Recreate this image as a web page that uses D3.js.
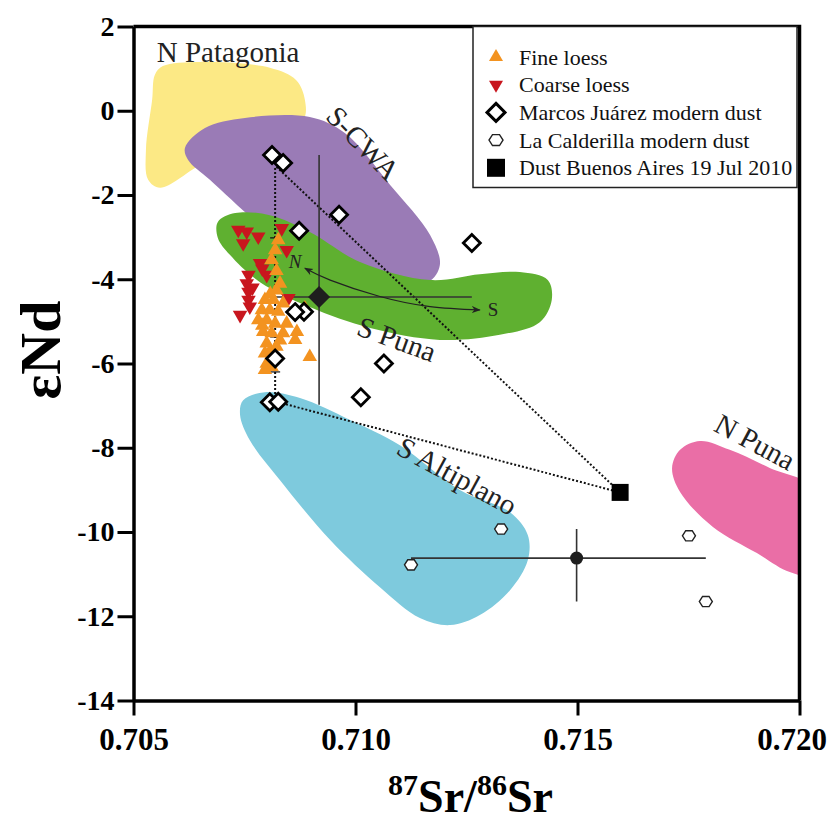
<!DOCTYPE html>
<html><head><meta charset="utf-8">
<script src="https://cdn.jsdelivr.net/npm/d3@7/dist/d3.min.js"></script>
<style>body{margin:0;background:#fff}</style>
</head><body>
<svg id="c" width="830" height="822"></svg>
<script>
// ---------- data ----------
const xTicks = [0.705, 0.710, 0.715, 0.720];
const yTicks = [2, 0, -2, -4, -6, -8, -10, -12, -14];

const nPatagonia = [[0.70566,1.06],[0.70650,1.16],[0.70807,1.02],[0.70866,0.73],[0.70886,0.26],[0.70882,-0.22],
  [0.70785,-0.58],[0.70650,-1.29],[0.70560,-1.83],[0.70533,-1.64],[0.70528,-0.93],[0.70542,0.26],[0.70548,0.85]];
const sCWA = [[0.70616,-0.88],[0.70661,-0.41],[0.70751,-0.17],[0.70897,-0.15],[0.70976,-0.53],[0.71078,-1.76],
  [0.71168,-2.95],[0.71190,-3.66],[0.71163,-4.07],[0.71033,-4.09],[0.70920,-3.73],[0.70785,-2.71],[0.70672,-1.64],[0.70623,-1.17]];
const sPuna = [[0.70690,-2.64],[0.70729,-2.43],[0.70807,-2.48],[0.70897,-2.88],[0.71010,-3.59],[0.71168,-4.02],
  [0.71280,-3.88],[0.71370,-3.83],[0.71433,-4.02],[0.71442,-4.49],[0.71415,-5.02],[0.71325,-5.32],[0.71190,-5.44],
  [0.71033,-5.16],[0.70897,-4.66],[0.70785,-4.07],[0.70717,-3.42],[0.70690,-3.02]];
const sAltiplano = [[0.70747,-6.87],[0.70796,-6.68],[0.70875,-6.82],[0.70988,-7.34],[0.71100,-7.94],[0.71235,-9.00],
  [0.71348,-9.53],[0.71388,-10.07],[0.71388,-10.67],[0.71348,-11.38],[0.71280,-11.97],[0.71213,-12.21],[0.71145,-12.04],
  [0.71055,-11.31],[0.70943,-10.19],[0.70830,-8.77],[0.70762,-7.82],[0.70740,-7.22]];
const nPuna = [[0.71776,-7.84],[0.71843,-8.05],[0.71933,-8.48],[0.72035,-9.00],[0.72035,-11.02],[0.71978,-10.95],
  [0.71904,-10.50],[0.71805,-9.88],[0.71731,-9.05],[0.71713,-8.48],[0.71731,-8.05]];

const regionNames = ["N Patagonia","S-CWA","S Puna","S Altiplano","N Puna"];
const regionLabelAt = [[0.70713,1.40],[0.71017,-0.77],[0.71093,-5.42],[0.71229,-8.67],[0.71900,-7.86]];

const coarseLoess = [[0.70736,-2.83],[0.70755,-2.87],[0.70747,-3.15],[0.70781,-2.99],[0.70834,-2.79],[0.70785,-3.62],
  [0.70800,-3.90],[0.70759,-3.90],[0.70755,-4.10],[0.70759,-4.30],[0.70759,-4.49],[0.70762,-4.65],[0.70740,-4.85],
  [0.70849,-4.45],[0.70845,-3.31],[0.70768,-4.20],[0.70790,-3.75]];
const fineLoess = [[0.70826,-3.07],[0.70819,-3.31],[0.70811,-3.54],[0.70830,-4.10],[0.70822,-4.26],[0.70796,-4.49],
  [0.70815,-4.49],[0.70837,-4.57],[0.70789,-4.73],[0.70807,-4.73],[0.70826,-4.77],[0.70781,-4.97],[0.70800,-4.97],
  [0.70819,-5.05],[0.70845,-5.05],[0.70792,-5.25],[0.70811,-5.28],[0.70837,-5.28],[0.70868,-5.25],[0.70886,-4.69],
  [0.70864,-5.44],[0.70800,-5.52],[0.70822,-5.60],[0.70796,-5.76],[0.70815,-5.84],[0.70800,-6.00],[0.70811,-6.08],
  [0.70897,-5.84],[0.70796,-6.15],[0.70808,-4.35],[0.70790,-5.10],[0.70830,-5.45],[0.70808,-5.70],[0.70822,-3.80]];
const marcosJuarez = [[0.70812,-1.05],[0.70837,-1.24],[0.70873,-2.85],[0.70963,-2.47],[0.71262,-3.14],[0.71064,-6.00],
  [0.71012,-6.80],[0.70807,-6.92],[0.70826,-6.91],[0.70819,-5.88],[0.70884,-4.77],[0.70864,-4.78]];
const mjMean = [0.70918, -4.42];
const mjRangeX = [0.70810, 0.71262];
const mjRangeY = [-1.05, -6.98];
const laCalderilla = [[0.71328,-9.93],[0.71125,-10.78],[0.71751,-10.09],[0.71789,-11.65]];
const lcMean = [0.71498, -10.62];
const lcRangeX = [0.71125, 0.71789];
const lcRangeY = [-9.93, -11.65];
const dustBA = [0.71596, -9.06];

const mixingLines = [
  [[0.70819,-1.36],[0.70819,-6.90]],
  [[0.70822,-1.33],[0.71596,-9.06]],
  [[0.70826,-6.92],[0.71596,-9.06]]
];
const mixTicksY = [-3.02, -4.33, -5.37, -6.20];
const mixTicksX = 0.70819;
const nsArrow = [[0.70886,-3.74],[0.70943,-4.02],[0.71055,-4.41],[0.71168,-4.65],[0.71280,-4.73]];
const nsLabels = [["N",0.70864,-3.59],["S",0.71310,-4.71]];

const legendLabels = ["Fine loess","Coarse loess","Marcos Juárez modern dust","La Calderilla modern dust","Dust Buenos Aires 19 Jul 2010"];

// ---------- drawing ----------
const svg = d3.select("#c");
const W = 830, H = 822;
const L = 133.5, R = 799.5, T = 26.5, B = 700.5;
const x = d3.scaleLinear().domain([0.705, 0.720]).range([L, R]);
const y = d3.scaleLinear().domain([-14, 2]).range([B, T]);
const serif = "'Liberation Serif','Times New Roman',serif";

svg.append("rect").attr("width", W).attr("height", H).attr("fill", "#fff");
const defs = svg.append("defs");
defs.append("clipPath").attr("id","plotclip").append("rect")
  .attr("x", L).attr("y", T).attr("width", R - L).attr("height", B - T);
defs.append("marker").attr("id","ah").attr("viewBox","0 0 10 10").attr("refX",9).attr("refY",5)
  .attr("markerWidth",9).attr("markerHeight",9).attr("markerUnits","userSpaceOnUse")
  .attr("orient","auto-start-reverse")
  .append("path").attr("d","M0,1 L10,5 L0,9 L3,5 Z").attr("fill","#222");

const plot = svg.append("g").attr("clip-path","url(#plotclip)");

const area = d3.line().x(d => x(d[0])).y(d => y(d[1])).curve(d3.curveCatmullRomClosed.alpha(0.5));
const regions = [
  [nPatagonia, "#fce985"],
  [sCWA, "#9a7bb6"],
  [sPuna, "#5fb030"],
  [sAltiplano, "#7ecadd"],
  [nPuna, "#ea6ea6"]
];
regions.forEach(([pts, col]) => plot.append("path").attr("d", area(pts)).attr("fill", col));

// region labels
const labelAngles = [0, 46, 20, 28.6, 28.3];
regionNames.forEach((t, i) => {
  const [lx, ly] = regionLabelAt[i];
  svg.append("text").attr("transform", `translate(${x(lx)},${y(ly)}) rotate(${labelAngles[i]})`)
    .attr("text-anchor","middle").attr("dominant-baseline","central")
    .attr("font-family", serif).attr("font-size", 29).attr("fill","#222").text(t);
});

// mixing lines
const seg = d3.line().x(d => x(d[0])).y(d => y(d[1]));
mixingLines.forEach(l => plot.append("path").attr("d", seg(l)).attr("fill","none")
  .attr("stroke","#111").attr("stroke-width",2).attr("stroke-dasharray","2,2"));
mixTicksY.forEach(v => plot.append("line").attr("x1", x(mixTicksX) - 5).attr("x2", x(mixTicksX) + 5)
  .attr("y1", y(v)).attr("y2", y(v)).attr("stroke","#111").attr("stroke-width",1.2));

// MJ error bars
plot.append("line").attr("x1", x(mjRangeX[0])).attr("x2", x(mjRangeX[1])).attr("y1", y(mjMean[1])).attr("y2", y(mjMean[1]))
  .attr("stroke","#333").attr("stroke-width",1.6);
plot.append("line").attr("x1", x(mjMean[0])).attr("x2", x(mjMean[0])).attr("y1", y(mjRangeY[0])).attr("y2", y(mjRangeY[1]))
  .attr("stroke","#333").attr("stroke-width",1.6);

// symbols
const triUp = s => { const h = s * Math.sqrt(3) / 2; return `M0,${-h*2/3}L${s/2},${h/3}L${-s/2},${h/3}Z`; };
const triDown = s => { const h = s * Math.sqrt(3) / 2; return `M0,${h*2/3}L${s/2},${-h/3}L${-s/2},${-h/3}Z`; };
const diamond = s => { const r = s / 2; return `M0,${-r}L${r},0L0,${r}L${-r},0Z`; };
const hexagon = s => { const r = s / 2; let p = ""; for (let k = 0; k < 6; k++) { const a = k * Math.PI / 3; p += (k ? "L" : "M") + (r*Math.cos(a)).toFixed(2) + "," + (r*0.9*Math.sin(a)).toFixed(2); } return p + "Z"; };
const square = s => `M${-s/2},${-s/2}h${s}v${s}h${-s}Z`;

const ORANGE = "#f39320", RED = "#c8161e";
plot.selectAll(".cl").data(coarseLoess).join("path").attr("class","cl")
  .attr("transform", d => `translate(${x(d[0])},${y(d[1])})`).attr("d", triDown(14.5)).attr("fill", RED);
plot.selectAll(".fl").data(fineLoess).join("path").attr("class","fl")
  .attr("transform", d => `translate(${x(d[0])},${y(d[1])})`).attr("d", triUp(14.5)).attr("fill", ORANGE);
plot.selectAll(".mj").data(marcosJuarez).join("path").attr("class","mj")
  .attr("transform", d => `translate(${x(d[0])},${y(d[1])})`).attr("d", diamond(17))
  .attr("fill","#fff").attr("stroke","#000").attr("stroke-width",2.8);
plot.append("path").attr("transform", `translate(${x(mjMean[0])},${y(mjMean[1])})`).attr("d", diamond(22)).attr("fill","#1e1e1e");

// N-S arrow
plot.append("path").attr("d", d3.line().x(d => x(d[0])).y(d => y(d[1])).curve(d3.curveNatural)(nsArrow))
  .attr("fill","none").attr("stroke","#222").attr("stroke-width",1.2)
  .attr("marker-start","url(#ah)").attr("marker-end","url(#ah)");
nsLabels.forEach(([t, lx, ly]) => svg.append("text").attr("x", x(lx)).attr("y", y(ly))
  .attr("text-anchor","middle").attr("dominant-baseline","central").attr("font-family", serif)
  .attr("font-style", t === "N" ? "italic" : "normal").attr("font-size", 19).attr("fill","#222").text(t));

// LC error bars
plot.append("line").attr("x1", x(lcRangeX[0])).attr("x2", x(lcRangeX[1])).attr("y1", y(lcMean[1])).attr("y2", y(lcMean[1]))
  .attr("stroke","#333").attr("stroke-width",1.6);
plot.append("line").attr("x1", x(lcMean[0])).attr("x2", x(lcMean[0])).attr("y1", y(lcRangeY[0])).attr("y2", y(lcRangeY[1]))
  .attr("stroke","#333").attr("stroke-width",1.6);
plot.selectAll(".lc").data(laCalderilla).join("path").attr("class","lc")
  .attr("transform", d => `translate(${x(d[0])},${y(d[1])})`).attr("d", hexagon(13))
  .attr("fill","#fff").attr("stroke","#222").attr("stroke-width",1.4);
plot.append("circle").attr("cx", x(lcMean[0])).attr("cy", y(lcMean[1])).attr("r", 6.5).attr("fill","#1e1e1e");

plot.append("path").attr("transform", `translate(${x(dustBA[0])},${y(dustBA[1])})`).attr("d", square(17)).attr("fill","#000");

// axes
const yAxis = svg.append("g").attr("transform", `translate(${L},0)`)
  .call(d3.axisLeft(y).tickValues(yTicks).tickSize(16).tickPadding(3).tickSizeOuter(0).tickFormat(d => String(d)));
const xAxis = svg.append("g").attr("transform", `translate(0,${B})`)
  .call(d3.axisBottom(x).tickValues(xTicks).tickSize(15).tickPadding(12).tickSizeOuter(0).tickFormat(d3.format(".3f")));
[yAxis, xAxis].forEach(g => {
  g.select(".domain").attr("stroke","#000").attr("stroke-width",3.5);
  g.selectAll(".tick line").attr("stroke","#000").attr("stroke-width",3);
  g.selectAll(".tick text").attr("fill","#000").attr("font-family", serif).attr("font-weight","bold");
});
yAxis.selectAll(".tick text").attr("font-size", 28);
xAxis.selectAll(".tick text").attr("font-size", 31);
// keep last x label inside the page
xAxis.selectAll(".tick text").filter(d => d === 0.720).attr("text-anchor","end").attr("dx", 27);
// frame top/right
svg.append("path").attr("d", `M${L},${T}H${R}V${B}`).attr("fill","none").attr("stroke","#000").attr("stroke-width",3.5);

// axis titles
const xt = svg.append("text").attr("x", (L + R) / 2 + 4).attr("y", 812).attr("text-anchor","middle")
  .attr("font-family", serif).attr("font-weight","bold").attr("font-size", 46).attr("fill","#000");
xt.append("tspan").attr("font-size", 30).attr("dy", -17).text("87");
xt.append("tspan").attr("dy", 17).text("Sr/");
xt.append("tspan").attr("font-size", 30).attr("dy", -17).text("86");
xt.append("tspan").attr("dy", 17).text("Sr");
svg.append("text").attr("transform", `translate(60,350) rotate(-90)`).attr("text-anchor","middle")
  .attr("font-family", serif).attr("font-weight","bold").attr("font-size", 58).attr("fill","#000").text("εNd");

// legend
const lg = svg.append("g");
lg.append("rect").attr("x", 473).attr("y", T).attr("width", 324).attr("height", 161)
  .attr("fill","#fff").attr("stroke","#222").attr("stroke-width",1.5);
const legSyms = [
  [triUp(14), ORANGE, "none", 0],
  [triDown(14), RED, "none", 0],
  [diamond(18), "#fff", "#000", 3],
  [hexagon(14), "#fff", "#222", 1.4],
  [square(18), "#000", "none", 0]
];
legendLabels.forEach((t, i) => {
  const cy = 57 + i * 27.7;
  const [d, f, s, sw] = legSyms[i];
  lg.append("path").attr("transform", `translate(496,${cy})`).attr("d", d).attr("fill", f).attr("stroke", s).attr("stroke-width", sw);
  lg.append("text").attr("x", 519).attr("y", cy).attr("dominant-baseline","central")
    .attr("font-family", serif).attr("font-size", 22).attr("fill","#111").text(t);
});
</script>
</body></html>
